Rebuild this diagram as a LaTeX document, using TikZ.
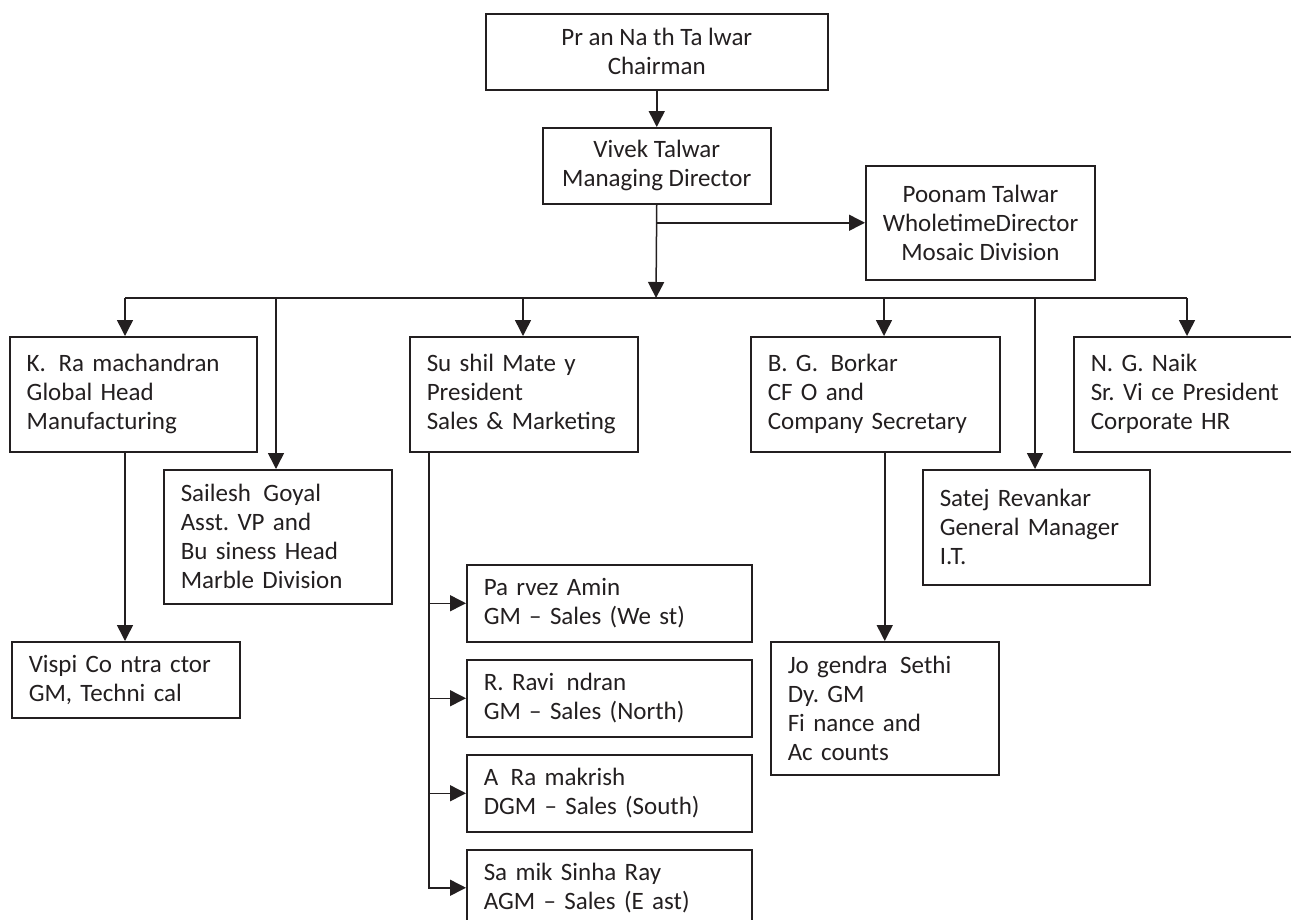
\documentclass[tikz,border=0pt]{standalone}
\usepackage{fontspec}
\setmainfont{Carlito}
\usetikzlibrary{arrows.meta}
\definecolor{ink}{HTML}{231F20}
\hyphenpenalty=10000
\exhyphenpenalty=10000
\tikzset{
  base/.style={draw=ink, line width=1.5pt, text=ink, anchor=north west, inner ysep=0pt, inner xsep=17pt,
    font=\fontsize{25}{29}\selectfont},
  lbox/.style 2 args={base, align=left, text width=#1, minimum height=#2},
  cbox/.style 2 args={base, align=center, minimum width=#1, minimum height=#2},
  conn/.style={draw=ink, line width=1.5pt},
  arr/.style={conn, -{Triangle[length=16pt,width=16pt]}}
}
\begin{document}
\begin{tikzpicture}[x=1pt,y=-1pt]
\useasboundingbox (0,0) rectangle (1291,919);
% top
\node[cbox={342pt}{76pt}] (chair) at (485,13) {Pr an Na th Ta lwar\\Chairman};
\node[cbox={228pt}{76pt}] (md) at (542,127) {Vivek Talwar\\Managing Director};
\node[cbox={228pt}{114pt}] (poonam) at (865,165) {Poonam Talwar\\WholetimeDirector\\Mosaic Division};
% second level
\node[lbox={213pt}{115pt}] (kram) at (9,336) {K.~\,Ra~machandran\\Global~Head\\Manufacturing};
\node[lbox={194pt}{134pt}] (sail) at (163,469) {Sailesh~\,Goyal\\Asst.~VP~and\\Bu~siness~Head\\Marble~Division};
\node[lbox={194pt}{115pt}] (sushil) at (409,336) {Su~shil~Mate~y\\President\\Sales~\&~Marketing};
\node[lbox={215pt}{115pt}] (borkar) at (750,336) {B.~G.~\,Borkar\\CF~O~and\\Company~Secretary};
\node[lbox={193pt}{115pt}] (satej) at (922,469) {Satej~Revankar\\General~Manager\\I.T.};
\node[lbox={230pt}{115pt}] (naik) at (1073,336) {N.~G.~Naik\\Sr.~Vi~ce~President\\Corporate~HR};
% third level
\node[lbox={194pt}{76pt}] (vispi) at (11,641) {Vispi~Co~ntra~ctor\\GM,~Techni~cal};
\node[lbox={251pt}{77pt}] (parvez) at (466,564) {Pa~rvez~Amin\\GM~--~Sales~(We~st)};
\node[lbox={251pt}{77pt}] (ravi) at (466,659) {R.~Ravi~\,ndran\\GM~--~Sales~(North)};
\node[lbox={251pt}{77pt}] (rama) at (466,754) {A~\,Ra~makrish\\DGM~--~Sales~(South)};
\node[lbox={251pt}{76pt}] (samik) at (466,849) {Sa~mik~Sinha~Ray\\AGM~--~Sales~(E~ast)};
\node[lbox={194pt}{133pt}] (joge) at (770,641) {Jo~gendra~\,Sethi\\Dy.~GM\\Fi~nance~and\\Ac~counts};
% connectors
\draw[arr] (chair.south) -- (md.north);
\coordinate (bus) at (656,298);
\draw[arr] (md.south) -- (bus);
\draw[arr] (md.south |- poonam.west) -- (poonam.west);
\coordinate (dk) at (125,298);
\coordinate (ds) at (276,298);
\coordinate (dsu) at (523,298);
\coordinate (db) at (884,298);
\coordinate (dsa) at (1035,298);
\coordinate (dn) at (1187,298);
\draw[conn] (dk) -- (dn);
\draw[arr] (dk) -- (dk |- kram.north);
\draw[arr] (ds) -- (ds |- sail.north);
\draw[arr] (dsu) -- (dsu |- sushil.north);
\draw[arr] (db) -- (db |- borkar.north);
\draw[arr] (dsa) -- (dsa |- satej.north);
\draw[arr] (dn) -- (dn |- naik.north);
\draw[arr] (dk |- kram.south) -- (dk |- vispi.north);
\draw[arr] (joge.north |- borkar.south) -- (joge.north);
\coordinate (sv) at (429,451);
\draw[arr] (sv) |- (samik.west);
\draw[arr] (sv |- parvez.west) -- (parvez.west);
\draw[arr] (sv |- ravi.west) -- (ravi.west);
\draw[arr] (sv |- rama.west) -- (rama.west);
\end{tikzpicture}
\end{document}
